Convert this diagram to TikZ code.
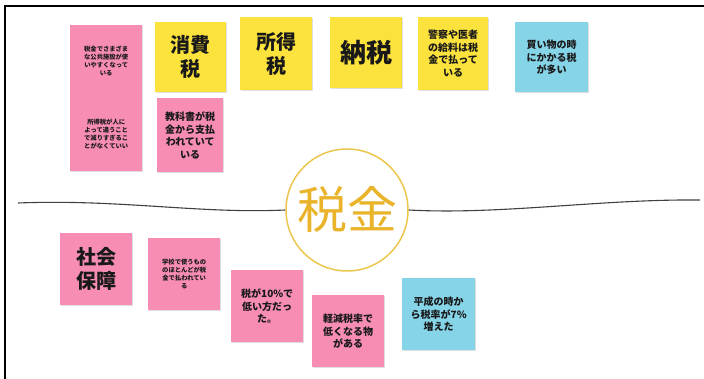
\documentclass[tikz,border=0pt]{standalone}
\usepackage{fontspec}
\usetikzlibrary{shadows}
\setmainfont{Noto Sans CJK JP}
\definecolor{npink}{HTML}{F78CB4}
\definecolor{nyellow}{HTML}{FCE23C}
\definecolor{nblue}{HTML}{86D4E8}
\definecolor{gold}{HTML}{E9B32A}
\definecolor{goldline}{HTML}{EDC64E}
\begin{document}
\begin{tikzpicture}[x=1pt,y=-1pt,
  note/.style={anchor=north west,minimum width=72pt,minimum height=72pt,inner sep=1pt,align=center,font=\bfseries,text=black!90,
    drop shadow={opacity=0.25,shadow xshift=0.8pt,shadow yshift=-1pt}},
  pinknote/.style={note,fill=npink},
  yellownote/.style={note,fill=nyellow},
  bluenote/.style={note,fill=nblue},
  tiny/.style={font=\bfseries\fontsize{6.3}{8}\selectfont},
  small/.style={font=\bfseries\fontsize{10}{12.5}\selectfont},
  big/.style={font=\bfseries\fontsize{20}{24}\selectfont},
  wave/.style={draw=black!75,line width=1.1pt}]
\useasboundingbox (0,0) rectangle (704,379);
\fill[white] (0,0) rectangle (704,379);
\coordinate (TL) at (5,6);
\coordinate (TR) at (704,6);
\coordinate (BL) at (5,379);
\draw[line width=2pt] (TR) -- (TL) -- (BL);
% top group
\node[pinknote,tiny] (a1) at (70,25) {税金でさまざま\\な公共施設が使\\いやすくなって\\いる};
\node[pinknote,tiny,minimum height=74pt] (a2) at (70,97) {所得税が人に\\よって違うこと\\で減りすぎるこ\\とがなくていい};
\node[yellownote,big,minimum width=71pt,minimum height=70pt] (a3) at (155,22) {消費\\税};
\node[pinknote,small,minimum width=66pt,minimum height=74pt] (a4) at (157,98) {教科書が税\\金から支払\\われていて\\いる};
\node[yellownote,big,minimum height=73pt] (a5) at (240,17) {所得\\税};
\node[yellownote,font=\bfseries\fontsize{26}{30}\selectfont,minimum height=71pt] (a6) at (330,17) {納税};
\node[yellownote,small,minimum width=70pt,minimum height=73pt] (a7) at (418,17) {警察や医者\\の給料は税\\金で払って\\いる};
\node[bluenote,small,minimum width=73pt,minimum height=70pt] (a8) at (515,22) {買い物の時\\にかかる税\\が多い};
% center
\node[circle,draw=goldline,line width=1.5pt,minimum size=122pt,inner sep=0pt,text=gold,font=\fontsize{50}{54}\selectfont] (c) at (347,210) {税金};
\coordinate (L) at (18,203);
\coordinate (R) at (700,200);
\draw[wave] (L) .. controls (120,199) and (200,214) .. (c.west);
\draw[wave] (c.east) .. controls (500,215) and (600,199) .. (R);
% bottom group
\node[pinknote,big] (b1) at (60,233) {社会\\保障};
\node[pinknote,tiny] (b2) at (148,238) {学校で使うもの\\のほとんどが税\\金で払われてい\\る};
\node[pinknote,small] (b3) at (231,270) {税が10\%で\\低い方だっ\\た。};
\node[pinknote,small] (b4) at (312,295) {軽減税率で\\低くなる物\\がある};
\node[bluenote,small,minimum width=73pt] (b5) at (402,278) {平成の時か\\ら税率が7\%\\増えた};
\end{tikzpicture}
\end{document}
